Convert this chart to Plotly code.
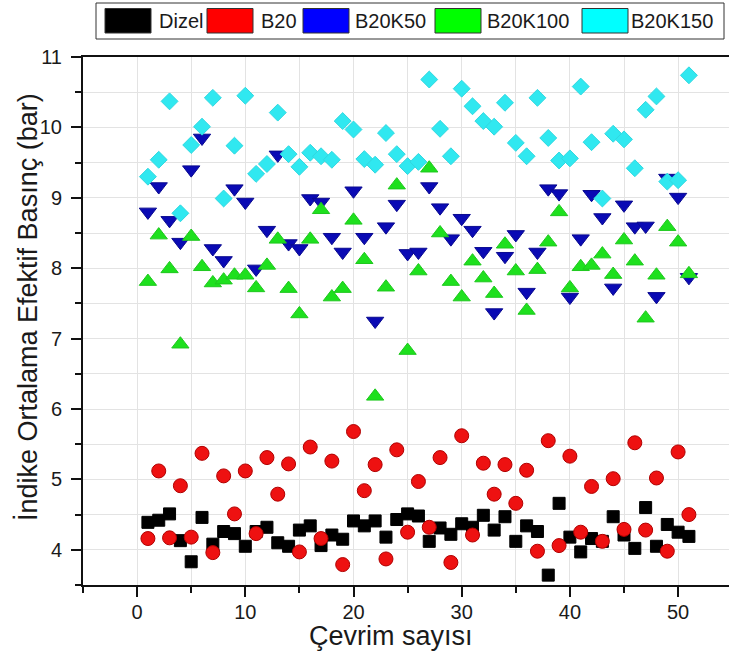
import plotly.graph_objects as go

cycles = list(range(1, 52))

dizel = [4.39, 4.42, 4.51, 4.13, 3.83, 4.46, 4.08, 4.26, 4.23, 4.05,
         4.26, 4.32, 4.10, 4.05, 4.28, 4.34, 4.06, 4.21, 4.15, 4.41,
         4.34, 4.41, 4.18, 4.43, 4.51, 4.48, 4.12, 4.31, 4.22, 4.37,
         4.32, 4.49, 4.28, 4.47, 4.12, 4.34, 4.26, 3.64, 4.66, 4.18,
         3.97, 4.16, 4.12, 4.47, 4.21, 4.02, 4.60, 4.05, 4.36, 4.25, 4.19]

b20 = [4.16, 5.12, 4.17, 4.91, 4.18, 5.37, 3.96, 5.05, 4.51, 5.12,
       4.23, 5.31, 4.79, 5.22, 3.97, 5.46, 4.16, 5.26, 3.79, 5.68,
       4.84, 5.21, 3.87, 5.42, 4.25, 4.97, 4.32, 5.31, 3.82, 5.62,
       4.21, 5.23, 4.79, 5.21, 4.66, 5.13, 3.98, 5.55, 4.06, 5.33,
       4.25, 4.90, 4.12, 5.01, 4.29, 5.52, 4.28, 5.02, 3.98, 5.39, 4.50]

b20k50 = [8.80, 9.16, 8.68, 8.37, 9.40, 9.85, 8.28, 8.11, 9.13, 8.94,
          7.99, 8.54, 9.61, 8.35, 8.28, 8.99, 8.94, 8.44, 8.23, 9.10,
          8.44, 7.25, 8.59, 8.91, 8.21, 8.23, 9.16, 8.86, 8.42, 8.71,
          8.54, 8.24, 7.37, 8.17, 8.48, 7.66, 8.23, 9.13, 9.06, 7.59,
          8.42, 9.05, 8.72, 7.72, 8.90, 8.59, 8.60, 7.60, 9.28, 9.01, 7.87]

b20k100 = [7.81, 8.47, 7.99, 6.92, 8.45, 8.02, 7.79, 7.83, 7.90, 7.90,
           7.72, 8.04, 8.41, 7.71, 7.35, 8.41, 8.83, 7.59, 7.71, 8.68,
           8.12, 6.18, 7.73, 9.18, 6.83, 7.96, 9.42, 8.50, 7.81, 7.59,
           8.10, 7.86, 7.64, 8.34, 7.96, 7.40, 7.98, 8.37, 8.80, 7.72,
           8.02, 8.04, 8.20, 7.91, 8.40, 8.10, 7.29, 7.90, 8.59, 8.37, 7.92]

b20k150 = [9.30, 9.54, 10.37, 8.78, 9.75, 10.01, 10.42, 8.99, 9.74, 10.45,
           9.34, 9.48, 10.21, 9.62, 9.44, 9.64, 9.59, 9.54, 10.09, 9.97,
           9.55, 9.47, 9.92, 9.62, 9.45, 9.51, 10.68, 9.98, 9.59, 10.55,
           10.30, 10.09, 10.01, 10.35, 9.78, 9.59, 10.42, 9.85, 9.53, 9.56,
           10.58, 9.79, 8.99, 9.91, 9.83, 9.42, 10.25, 10.44, 9.23, 9.25, 10.74]

series_names = ["Dizel", "B20", "B20K50", "B20K100", "B20K150"]
series_values = [dizel, b20, b20k50, b20k100, b20k150]
marker_symbols = ["square", "circle", "triangle-down", "triangle-up", "diamond"]
marker_colors = ["#000000", "#ee1111", "#0a0ab4", "#1ee01e", "#30e8f0"]
marker_lines = ["#000000", "#b00000", "#0a0a90", "#1ec81e", "#30d8e0"]
marker_sizes = [12, 14, 15, 15, 13]
swatch_colors = ["#000000", "#ff0000", "#0000ff", "#00ff00", "#00ffff"]

x_ticks = [0, 10, 20, 30, 40, 50]
y_ticks = [4, 5, 6, 7, 8, 9, 10, 11]

W, H = 729, 659
ML, MR, MT, MB = 83, 0, 57, 74
PW, PH = W - ML - MR, H - MT - MB

def px(x):
    return (x - ML) / PW

def py(y):
    return (H - MB - y) / PH

FONT = "Liberation Sans, Arial, sans-serif"

fig = go.Figure()
for name, vals, sym, col, lc, sz in zip(series_names, series_values, marker_symbols,
                                        marker_colors, marker_lines, marker_sizes):
    fig.add_trace(go.Scatter(
        x=cycles, y=vals, mode="markers", name=name, showlegend=False,
        marker=dict(symbol=sym, color=col, size=sz, line=dict(color=lc, width=1)),
    ))

# manual legend (rectangular swatches like the original)
shapes = [dict(type="rect", xref="paper", yref="paper",
               x0=px(96), x1=px(724), y0=py(39), y1=py(3),
               line=dict(color="#333333", width=1), fillcolor="white", layer="above")]
annotations = []
swatch_left = [105, 207, 303, 435, 582]
text_left = [157, 259, 353, 485, 629]
for name, sc, sl, tl in zip(series_names, swatch_colors, swatch_left, text_left):
    shapes.append(dict(type="rect", xref="paper", yref="paper",
                       x0=px(sl), x1=px(sl + 46), y0=py(33), y1=py(8.5),
                       line=dict(color="#333333", width=1), fillcolor=sc, layer="above"))
    annotations.append(dict(text=name, xref="paper", yref="paper",
                            x=px(tl), y=py(21), xanchor="left", yanchor="middle",
                            showarrow=False, font=dict(family=FONT, size=20, color="#1a1a1a")))

annotations.append(dict(text="Çevrim sayısı", xref="paper", yref="paper",
                        x=px(391), y=py(636), xanchor="center", yanchor="middle",
                        showarrow=False, font=dict(family=FONT, size=27, color="#1a1a1a")))
annotations.append(dict(text="İndike Ortalama Efektif Basınç (bar)", xref="paper", yref="paper",
                        x=px(27), y=py(307), xanchor="center", yanchor="middle",
                        textangle=-90, showarrow=False,
                        font=dict(family=FONT, size=27, color="#1a1a1a")))

fig.update_layout(
    width=W, height=H,
    margin=dict(l=ML, r=MR, t=MT, b=MB, pad=0),
    paper_bgcolor="white", plot_bgcolor="white",
    showlegend=False,
    shapes=shapes, annotations=annotations,
    font=dict(family=FONT, size=20, color="#1a1a1a"),
)
fig.update_xaxes(
    range=[-5, (W - MR - ML) / 10.82 - 5], tickvals=x_ticks,
    showgrid=True, gridcolor="#e3e3e3", gridwidth=1,
    minor=dict(dtick=5, tick0=0, showgrid=True, gridcolor="#e3e3e3",
               ticks="outside", ticklen=6, tickcolor="#111111", tickwidth=2),
    ticks="outside", ticklen=10, tickwidth=2, tickcolor="#111111",
    showline=True, linecolor="#111111", linewidth=2, mirror=True,
    zeroline=False, ticklabelstandoff=-2,
    tickfont=dict(family=FONT, size=20, color="#1a1a1a"),
)
fig.update_yaxes(
    range=[3.5, 11], tickvals=y_ticks,
    showgrid=True, gridcolor="#e3e3e3", gridwidth=1,
    minor=dict(dtick=0.5, tick0=0, showgrid=True, gridcolor="#e3e3e3",
               ticks="outside", ticklen=6, tickcolor="#111111", tickwidth=2),
    ticks="outside", ticklen=10, tickwidth=2, tickcolor="#111111",
    showline=True, linecolor="#111111", linewidth=2, mirror=False,
    zeroline=False, ticklabelstandoff=5,
    tickfont=dict(family=FONT, size=20, color="#1a1a1a"),
)

fig.write_html("out.html")
